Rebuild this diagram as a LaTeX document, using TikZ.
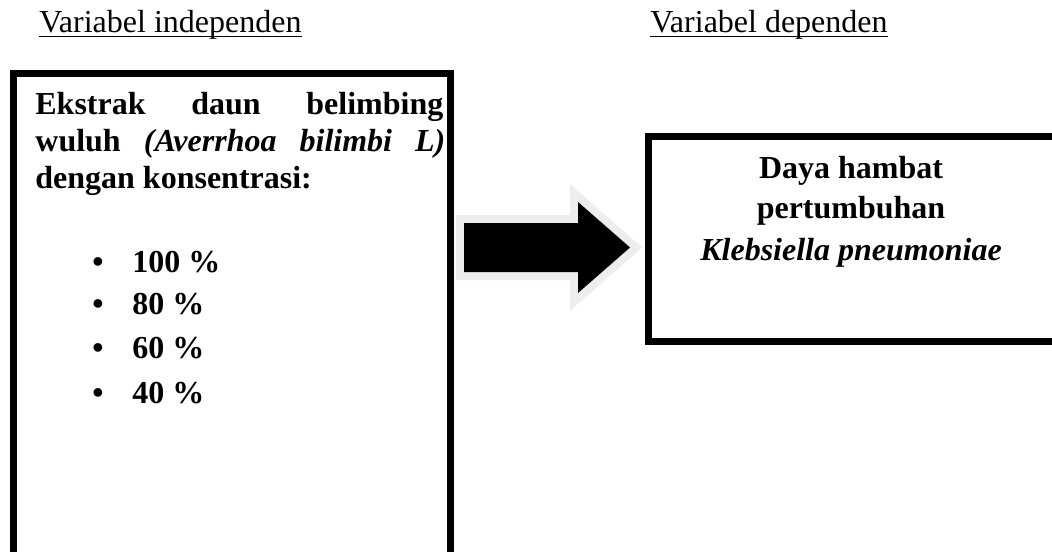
\documentclass[tikz,border=0pt]{standalone}
\usepackage{fontspec}
\setmainfont{Liberation Serif}
\begin{document}
\begin{tikzpicture}[x=0.5pt,y=-0.5pt,
  hdr/.style={inner sep=0pt, anchor=base west, font=\fontsize{16}{18.5}\selectfont},
  txt/.style={inner sep=0pt, anchor=base west, font=\fontsize{16}{18.5}\selectfont\bfseries},
  ctxt/.style={inner sep=0pt, anchor=base, font=\fontsize{16}{18.5}\selectfont\bfseries},
  frame/.style={draw=black, line width=3.5pt, fill=white, inner sep=0pt},
  uline/.style={line width=0.8pt}]
\useasboundingbox (0,0) rectangle (1052,551);
\fill[white] (0,0) rectangle (1052,551);
% headers
\node[hdr] (h1) at (39,33) {Variabel independen};
\node[hdr] (h2) at (650,33) {Variabel dependen};
\draw[uline] ([yshift=-1.75pt]h1.base west) -- ([yshift=-1.75pt]h1.base east);
\draw[uline] ([yshift=-1.75pt]h2.base west) -- ([yshift=-1.75pt]h2.base east);
% boxes (clipped by the page)
\begin{scope}
\clip (0,0) rectangle (1052,551);
\node[frame, minimum width=218.5pt, minimum height=273.25pt] (indep) at (232,346.75) {};
\node[frame, minimum width=226pt, minimum height=102.75pt] (dep) at (874,238.75) {};
\end{scope}
% left box text
\node[txt] (l1) at (35,114) {\makebox[204pt][s]{Ekstrak\hfill daun\hfill belimbing}};
\node[txt] (l2) at (35,151) {\makebox[205pt][s]{wuluh\hfill \textit{(Averrhoa}\hfill \textit{bilimbi}\hfill \textit{L)}}};
\node[txt] (l3) at (35,188) {dengan konsentrasi:};
\foreach \v/\y [count=\i] in {100/272, 80/314, 60/358, 40/403} {
  \node[txt] (b\i) at (92,\y) {•};
  \node[txt] (p\i) at (132,\y) {\v\ \%};
}
% right box text
\node[ctxt] (r1) at (851,178) {Daya hambat};
\node[ctxt] (r2) at (851,218) {pertumbuhan};
\node[ctxt] (r3) at (851,260) {\textit{Klebsiella pneumoniae}};
% block arrow
\coordinate (a1) at (464,223);
\coordinate (a2) at (578,223);
\coordinate (a3) at (578,202);
\coordinate (tip) at (630,247.5);
\coordinate (a5) at (578,293);
\coordinate (a6) at (578,272);
\coordinate (a7) at (464,272);
\path[fill=black, line join=miter, preaction={draw=black!7, line width=8pt, line join=miter}]
  (a1) -- (a2) -- (a3) -- (tip) -- (a5) -- (a6) -- (a7) -- cycle;
\end{tikzpicture}
\end{document}
